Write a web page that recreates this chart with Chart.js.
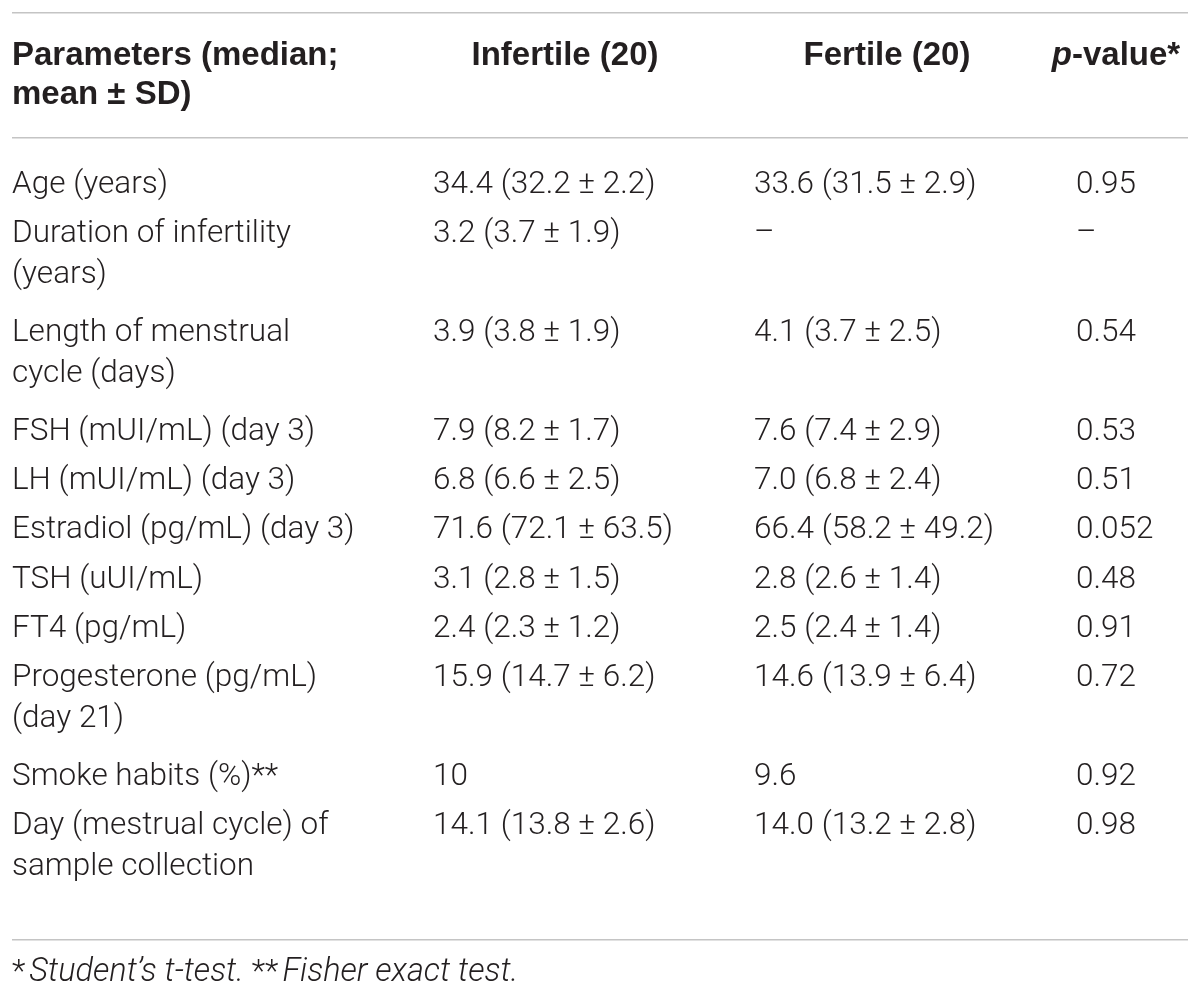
<!DOCTYPE html>
<html>
<head>
<meta charset="utf-8">
<script src="https://cdn.jsdelivr.net/npm/chart.js@4.4.1/dist/chart.umd.min.js"></script>
<style>
  html, body { margin: 0; padding: 0; background: #ffffff; }
  #wrap { width: 1200px; height: 997px; position: relative; }
</style>
</head>
<body>
<div id="wrap"><canvas id="table"></canvas></div>
<script>
// Table content (text between _ _ is italic)
const columnHeaders = [
  ["Parameters (median;", "mean ± SD)"],
  ["Infertile (20)"],
  ["Fertile (20)"],
  ["_p_-value*"],
];

const parameters = [
  ["Age (years)"],
  ["Duration of infertility", "(years)"],
  ["Length of menstrual", "cycle (days)"],
  ["FSH (mUI/mL) (day 3)"],
  ["LH (mUI/mL) (day 3)"],
  ["Estradiol (pg/mL) (day 3)"],
  ["TSH (uUI/mL)"],
  ["FT4 (pg/mL)"],
  ["Progesterone (pg/mL)", "(day 21)"],
  ["Smoke habits (%)**"],
  ["Day (mestrual cycle) of", "sample collection"],
];

const infertile = [
  "34.4 (32.2 ± 2.2)", "3.2 (3.7 ± 1.9)", "3.9 (3.8 ± 1.9)", "7.9 (8.2 ± 1.7)",
  "6.8 (6.6 ± 2.5)", "71.6 (72.1 ± 63.5)", "3.1 (2.8 ± 1.5)", "2.4 (2.3 ± 1.2)",
  "15.9 (14.7 ± 6.2)", "10", "14.1 (13.8 ± 2.6)",
];

const fertile = [
  "33.6 (31.5 ± 2.9)", "–", "4.1 (3.7 ± 2.5)", "7.6 (7.4 ± 2.9)",
  "7.0 (6.8 ± 2.4)", "66.4 (58.2 ± 49.2)", "2.8 (2.6 ± 1.4)", "2.5 (2.4 ± 1.4)",
  "14.6 (13.9 ± 6.4)", "9.6", "14.0 (13.2 ± 2.8)",
];

const pValues = ["0.95", "–", "0.54", "0.53", "0.51", "0.052", "0.48", "0.91", "0.72", "0.92", "0.98"];

const footnote = "*_Student’s t-test. _**_Fisher exact test._";

// Layout / style
const TEXT = "#231f20";
const RULE = "#c4c4c4";
const BODY_FONT = "300 31.5px Roboto, 'Liberation Sans', sans-serif";
const BODY_ITALIC = "italic 300 31.5px Roboto, 'Liberation Sans', sans-serif";
const FOOT_ITALIC = "italic 300 32.5px Roboto, 'Liberation Sans', sans-serif";
const HEAD_FONT = "bold 33px 'Liberation Sans', Arial, sans-serif";
const HEAD_ITALIC = "italic bold 33px 'Liberation Sans', Arial, sans-serif";
const colLeft = [0, 421, 742, 1064];      // x-scale units
const headCenter = [0, 553, 875, 1104];   // x-scale units
const ruleAt = [-2.546, 0, 16.27];         // y-scale units (row slots)
const headerBaseline = -1.48;
const rowBaseline = 1.116;
const footBaseline = 17.1;
const lineGap = 41;                        // px between wrapped lines
const headGap = 38.5;

// Row slot starts from the number of lines in each row
const rowStart = [];
parameters.reduce((acc, p, i) => { rowStart[i] = acc; return acc + p.length; }, 0);

const columns = [parameters, infertile.map(v => [v]), fertile.map(v => [v]), pValues.map(v => [v])];

function segments(str) {
  return str.split("_").map((t, i) => ({ t, italic: i % 2 === 1 })).filter(s => s.t.length);
}

function drawRich(ctx, str, x, y, font, italicFont, align, gapAfterUpright) {
  const segs = segments(str);
  const gap = gapAfterUpright || 0;
  let total = 0;
  segs.forEach(s => {
    ctx.font = s.italic ? italicFont : font;
    s.w = ctx.measureText(s.t).width + (s.italic ? 0 : gap);
    total += s.w;
  });
  let cx = align === "center" ? x - total / 2 : x;
  ctx.textAlign = "left";
  segs.forEach(s => { ctx.font = s.italic ? italicFont : font; ctx.fillText(s.t, cx, y); cx += s.w; });
}

const tablePlugin = {
  id: "tableText",
  afterDraw(chart) {
    const { ctx, scales: { x, y } } = chart;
    ctx.save();
    ctx.fillStyle = TEXT;
    ctx.textBaseline = "alphabetic";

    // Body cells
    columns.forEach((col, j) => {
      const left = x.getPixelForValue(colLeft[j]);
      col.forEach((lines, i) => {
        const base = y.getPixelForValue(rowStart[i] + rowBaseline);
        lines.forEach((t, k) => drawRich(ctx, t, left, base + k * lineGap, BODY_FONT, BODY_ITALIC, "left"));
      });
    });

    // Header
    const hBase = y.getPixelForValue(headerBaseline);
    columnHeaders.forEach((lines, j) => {
      lines.forEach((t, k) => {
        if (j === 0) drawRich(ctx, t, x.getPixelForValue(colLeft[0]), hBase + k * headGap, HEAD_FONT, HEAD_ITALIC, "left");
        else drawRich(ctx, t, x.getPixelForValue(headCenter[j]), hBase + k * headGap, HEAD_FONT, HEAD_ITALIC, "center");
      });
    });

    // Footnote
    drawRich(ctx, footnote, x.getPixelForValue(0), y.getPixelForValue(footBaseline), BODY_FONT, FOOT_ITALIC, "left", 4);
    ctx.restore();
  },
};

new Chart(document.getElementById("table"), {
  type: "scatter",
  data: { datasets: [] },
  plugins: [tablePlugin],
  options: {
    responsive: true,
    maintainAspectRatio: false,
    animation: false,
    layout: { padding: { left: 12, right: 12, top: 0, bottom: 0 } },
    plugins: { legend: { display: false }, tooltip: { enabled: false } },
    scales: {
      x: {
        type: "linear", min: 0, max: 1176,
        display: false,
      },
      y: {
        type: "linear", min: -2.8, max: 17.42, reverse: true,
        afterBuildTicks: (scale) => { scale.ticks = ruleAt.map(v => ({ value: v })); },
        ticks: { display: false },
        border: { display: false },
        grid: { color: RULE, lineWidth: 1.6, drawTicks: false },
      },
    },
  },
});
</script>
</body>
</html>
